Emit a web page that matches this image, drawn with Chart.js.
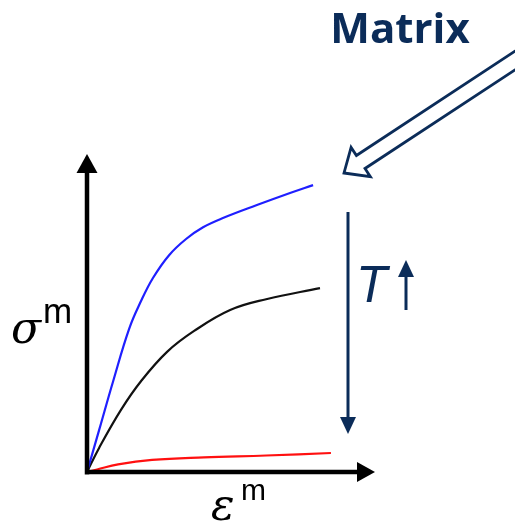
<!DOCTYPE html>
<html>
<head>
<meta charset="utf-8">
<script src="https://cdn.jsdelivr.net/npm/chart.js@4"></script>
<style>
  html, body { margin: 0; padding: 0; background: #fff; }
  #wrap { width: 515px; height: 524px; position: relative; }
</style>
</head>
<body>
<div id="wrap"><canvas id="c"></canvas></div>
<script>
// strain / stress pairs (arbitrary units, 0..1)
const blueStrain  = [0, 0.042, 0.090, 0.146, 0.188, 0.229, 0.285, 0.344, 0.403, 0.472, 0.590, 0.705, 0.785];
const blueStress  = [0, 0.132, 0.284, 0.451, 0.540, 0.612, 0.684, 0.735, 0.772, 0.801, 0.842, 0.880, 0.905];
const blackStrain = [0, 0.042, 0.118, 0.188, 0.278, 0.372, 0.497, 0.622, 0.809];
const blackStress = [0, 0.076, 0.196, 0.287, 0.379, 0.445, 0.511, 0.545, 0.580];
const redStrain   = [0, 0.035, 0.108, 0.226, 0.406, 0.622, 0.847];
const redStress   = [0, 0.008, 0.024, 0.038, 0.046, 0.052, 0.060];

const navy = "#0b2c59";

function pts(xs, ys) {
    return xs.map((x, i) => ({ x: x, y: ys[i] }));
}

function tri(ctx, a, b, c) {
    ctx.beginPath();
    ctx.moveTo(a[0], a[1]);
    ctx.lineTo(b[0], b[1]);
    ctx.lineTo(c[0], c[1]);
    ctx.closePath();
    ctx.fill();
}

const sketch = {
    id: "sketch",
    afterDraw(chart) {
        const ctx = chart.ctx;
        const a = chart.chartArea;
        ctx.save();

        // axes with arrow heads
        ctx.strokeStyle = "#000";
        ctx.fillStyle = "#000";
        ctx.lineWidth = 4.5;
        ctx.beginPath();
        ctx.moveTo(a.left, a.bottom + 2.5);
        ctx.lineTo(a.left, a.top + 16);
        ctx.moveTo(a.left - 2, a.bottom);
        ctx.lineTo(a.right - 16, a.bottom);
        ctx.stroke();
        tri(ctx, [a.left, a.top - 1], [a.left - 10.5, a.top + 18], [a.left + 10.5, a.top + 18]);
        tri(ctx, [a.right, a.bottom], [a.right - 18, a.bottom - 10], [a.right - 18, a.bottom + 10]);

        // axis labels
        ctx.fillStyle = "#000";
        ctx.textBaseline = "alphabetic";
        ctx.font = "italic 44px 'DejaVu Serif'";
        ctx.fillText("\u03c3", 11, 343);
        ctx.font = "35px 'Liberation Sans'";
        ctx.fillText("m", 43, 323);
        ctx.font = "italic 44px 'DejaVu Serif'";
        ctx.fillText("\u03b5", 211, 520);
        ctx.font = "30px 'Liberation Sans'";
        ctx.fillText("m", 241, 500);

        // "Matrix" title
        ctx.fillStyle = navy;
        ctx.font = "bold 42px 'Open Sans'";
        ctx.textAlign = "center";
        ctx.fillText("Matrix", 400, 43);
        ctx.textAlign = "left";

        // hollow arrow pointing at blue curve
        const tip = [344, 173];
        const ux = -0.836, uy = 0.550;
        const nx = 0.550, ny = 0.836;
        const hl = 20, hw = 17.5, sw = 7.8, len = 260;
        const bx = tip[0] - ux * hl, by = tip[1] - uy * hl;
        const tx = tip[0] - ux * len, ty = tip[1] - uy * len;
        ctx.strokeStyle = navy;
        ctx.lineWidth = 2.8;
        ctx.lineJoin = "miter";
        ctx.beginPath();
        ctx.moveTo(tip[0], tip[1]);
        ctx.lineTo(bx + nx * hw, by + ny * hw);
        ctx.lineTo(bx + nx * sw, by + ny * sw);
        ctx.lineTo(tx + nx * sw, ty + ny * sw);
        ctx.lineTo(tx - nx * sw, ty - ny * sw);
        ctx.lineTo(bx - nx * sw, by - ny * sw);
        ctx.lineTo(bx - nx * hw, by - ny * hw);
        ctx.closePath();
        ctx.stroke();

        // long downward arrow
        ctx.fillStyle = navy;
        ctx.lineWidth = 3;
        ctx.beginPath();
        ctx.moveTo(348, 212);
        ctx.lineTo(348, 420);
        ctx.stroke();
        tri(ctx, [348, 434], [340, 417], [356, 417]);

        // T with small upward arrow
        ctx.font = "italic 51px 'Liberation Sans'";
        ctx.fillText("T", 356, 302);
        ctx.beginPath();
        ctx.moveTo(406, 310);
        ctx.lineTo(406, 274);
        ctx.stroke();
        tri(ctx, [406, 260], [398, 277], [414, 277]);

        ctx.restore();
    }
};

new Chart(document.getElementById("c"), {
    type: "line",
    data: {
        datasets: [
            { data: pts(blueStrain, blueStress), borderColor: "#1f1fff" },
            { data: pts(blackStrain, blackStress), borderColor: "#111" },
            { data: pts(redStrain, redStress), borderColor: "#ff1010" }
        ]
    },
    options: {
        responsive: true,
        maintainAspectRatio: false,
        animation: false,
        layout: { padding: { left: 87, right: 140, top: 155, bottom: 52 } },
        elements: {
            line: { borderWidth: 2.2, tension: 0.4 },
            point: { radius: 0 }
        },
        scales: {
            x: { type: "linear", min: 0, max: 1, display: false },
            y: { type: "linear", min: 0, max: 1, display: false }
        },
        plugins: {
            legend: { display: false },
            tooltip: { enabled: false }
        }
    },
    plugins: [sketch]
});
</script>
</body>
</html>
